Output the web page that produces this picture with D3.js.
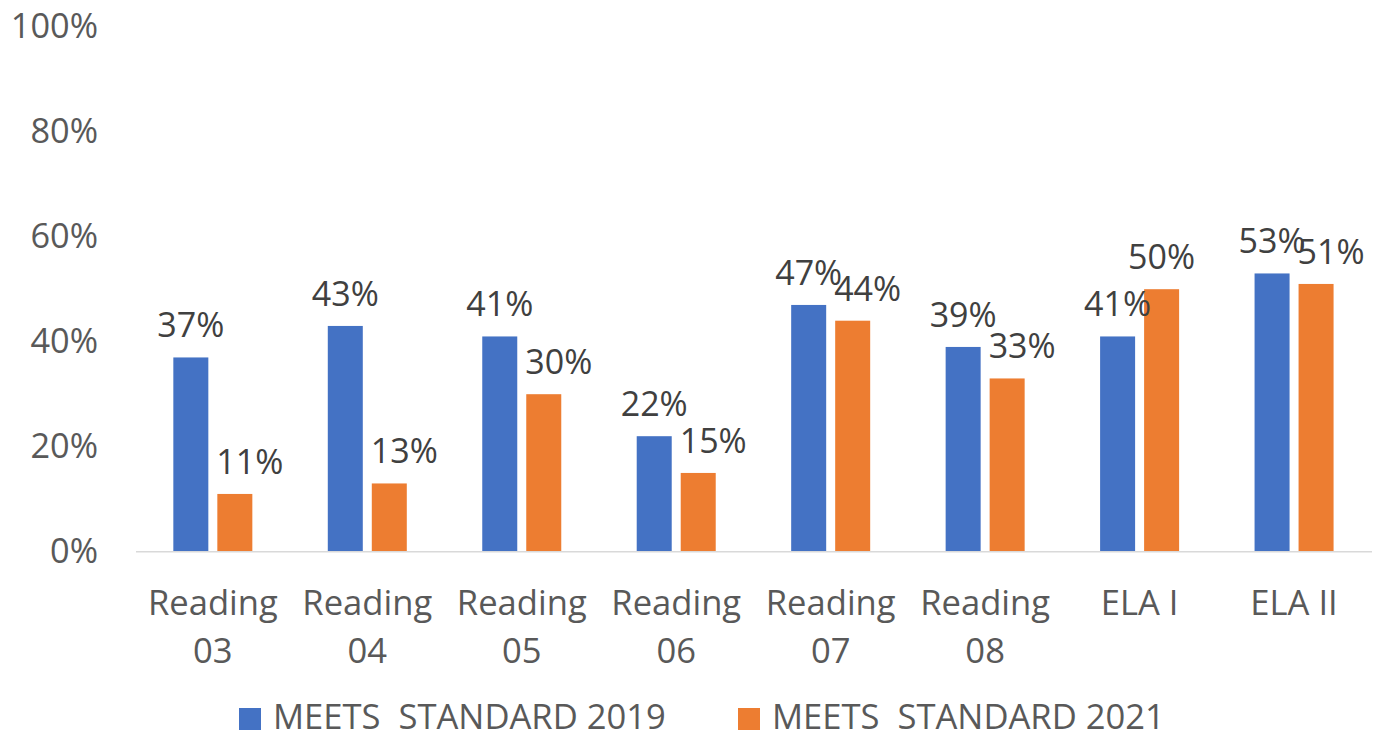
<!DOCTYPE html>
<html>
<head>
<meta charset="utf-8">
<script src="https://cdn.jsdelivr.net/npm/d3@7"></script>
<style>
  html, body { margin: 0; padding: 0; background: #ffffff; }
  svg { display: block; font-family: "Open Sans", sans-serif; }
</style>
</head>
<body>
<svg id="chart" width="1374" height="734"></svg>
<script>
const categories = [["Reading","03"],["Reading","04"],["Reading","05"],["Reading","06"],["Reading","07"],["Reading","08"],["ELA I"],["ELA II"]];
const seriesNames = ["MEETS  STANDARD 2019", "MEETS  STANDARD 2021"];
const values2019 = [37, 43, 41, 22, 47, 39, 41, 53];
const values2021 = [11, 13, 30, 15, 44, 33, 50, 51];
const yTicks = [0, 20, 40, 60, 80, 100];
const colors = ["#4472C4", "#ED7D31"];
// label alignment of the 2021 data labels relative to their bars (as placed in the reference)
const labelAlign2021 = ["start", "start", "start", "start", "start", "start", "middle", "start"];

const svg = d3.select("#chart");
const catKeys = categories.map((c, i) => String(i));
const seriesData = [values2019, values2021];

const x0 = d3.scaleBand().domain(catKeys).range([135.6, 1371.3]).paddingInner(0.4885).paddingOuter(0.24425);
const x1 = d3.scaleBand().domain([0, 1]).range([0, x0.bandwidth()]).paddingInner(0.2045);
const y = d3.scaleLinear().domain([0, 100]).range([551.7, 26.7]);

// Y axis labels
const yAxis = d3.axisLeft(y).tickValues(yTicks).tickFormat(d => d + "%").tickSize(0).tickPadding(0);
const yg = svg.append("g").attr("transform", "translate(98,0)").call(yAxis);
yg.select(".domain").remove();
yg.selectAll("text").attr("font-size", 34.3).attr("fill", "#595959").attr("font-family", "Open Sans, sans-serif").attr("dy", "0.32em");

// Bars
const groups = svg.append("g").selectAll("g").data(catKeys).join("g")
  .attr("transform", k => `translate(${x0(k)},0)`);
groups.selectAll("rect").data(k => [0, 1].map(s => ({s, v: seriesData[s][+k]}))).join("rect")
  .attr("x", d => x1(d.s)).attr("width", x1.bandwidth())
  .attr("y", d => y(d.v)).attr("height", d => y(0) - y(d.v))
  .attr("fill", d => colors[d.s]);
groups.selectAll("text.lbl").data(k => [0, 1].map(s => ({s, k: +k, v: seriesData[s][+k]}))).join("text")
  .attr("class", "lbl")
  .attr("x", d => {
    const a = d.s === 1 ? labelAlign2021[d.k] : "middle";
    return a === "start" ? x1(d.s) - 1 : x1(d.s) + x1.bandwidth() / 2;
  })
  .attr("y", d => y(d.v) - 20)
  .attr("text-anchor", d => d.s === 1 ? labelAlign2021[d.k] : "middle")
  .attr("font-size", 34).attr("fill", "#404040")
  .text(d => d.v + "%");

// X axis line
const xAxis = d3.axisBottom(x0).tickSize(0).tickFormat(() => "");
const xg = svg.append("g").attr("transform", `translate(0,${y(0)})`).call(xAxis);
xg.select(".domain").attr("d", "M136,0H1372").attr("stroke", "#d9d9d9").attr("stroke-width", 1.5);
xg.selectAll(".tick text").remove();

// Category labels
const catLabels = svg.append("g").selectAll("text").data(catKeys).join("text")
  .attr("x", k => x0(k) + x0.bandwidth() / 2)
  .attr("y", y(0) + 63)
  .attr("text-anchor", "middle").attr("font-size", 34.6).attr("fill", "#595959");
catLabels.selectAll("tspan").data(k => categories[+k]).join("tspan")
  .attr("x", function() { return this.parentNode.getAttribute("x"); })
  .attr("dy", (d, i) => i === 0 ? 0 : 48)
  .text(d => d);

// Legend
const legendX = [239, 738];
const lg = svg.append("g").selectAll("g").data(seriesNames).join("g")
  .attr("transform", (d, i) => `translate(${legendX[i]},0)`);
lg.append("rect").attr("x", 0).attr("y", 708).attr("width", 22).attr("height", 22).attr("fill", (d, i) => colors[i]);
lg.append("text").attr("x", 34).attr("y", 729).attr("font-size", 34.6).attr("fill", "#595959")
  .style("white-space", "pre").text(d => d);
</script>
</body>
</html>
